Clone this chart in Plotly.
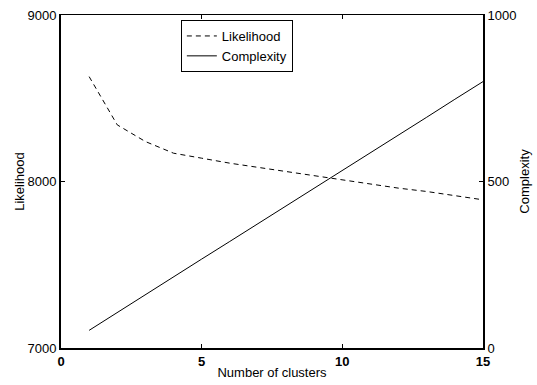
import plotly.graph_objects as go

# Model selection curves versus number of clusters
clusters = list(range(1, 16))
likelihood = [8630, 8340, 8240, 8170, 8140, 8110, 8085, 8060, 8035, 8010,
              7985, 7960, 7940, 7915, 7890]
complexity = [53, 107, 160, 213, 267, 320, 373, 427, 480, 533,
              587, 640, 693, 747, 800]

x_ticks = [0, 5, 10, 15]
left_ticks = [7000, 8000, 9000]
right_ticks = [0, 500, 1000]

FONT = "Liberation Sans, Arial, Helvetica, sans-serif"

fig = go.Figure()
fig.add_trace(go.Scatter(
    x=clusters, y=likelihood, name="Likelihood", mode="lines",
    line=dict(color="black", width=1, dash="5px,4px"),
    xaxis="x", yaxis="y",
))
fig.add_trace(go.Scatter(
    x=clusters, y=complexity, name="Complexity", mode="lines",
    line=dict(color="black", width=1),
    xaxis="x2", yaxis="y2",
))

fig.update_layout(
    width=537, height=385,
    margin=dict(l=61, r=54, t=15, b=37, autoexpand=False),
    paper_bgcolor="white", plot_bgcolor="white",
    font=dict(family=FONT, size=13, color="black"),
    showlegend=True,
    legend=dict(
        x=0.284, y=0.985, xanchor="left", yanchor="top",
        bordercolor="black", borderwidth=1, bgcolor="white",
        font=dict(size=13), tracegroupgap=0, itemwidth=30,
    ),
    xaxis=dict(
        range=[0, 15], tickvals=x_ticks, ticks="inside", ticklen=4,
        tickcolor="black", showgrid=False, zeroline=False,
        showline=True, linecolor="black", linewidth=2, automargin=False,
        tickfont=dict(size=13, weight="bold"),
        title=dict(text="Number of clusters", font=dict(size=13), standoff=0),
    ),
    xaxis2=dict(
        range=[0, 15], tickvals=x_ticks, ticks="inside", ticklen=4,
        tickcolor="black", showgrid=False, zeroline=False,
        showline=True, linecolor="black", linewidth=1, automargin=False,
        showticklabels=False, overlaying="x", side="top",
    ),
    yaxis=dict(
        range=[7000, 9000], tickvals=left_ticks, ticks="inside", ticklen=4,
        tickcolor="black", showgrid=False, zeroline=False,
        showline=True, linecolor="black", linewidth=2, automargin=False,
        tickfont=dict(size=13),
        title=dict(text="Likelihood", font=dict(size=13), standoff=0),
    ),
    yaxis2=dict(
        range=[0, 1000], tickvals=right_ticks, ticks="inside", ticklen=4,
        tickcolor="black", showgrid=False, zeroline=False,
        showline=True, linecolor="black", linewidth=2, automargin=False,
        tickfont=dict(size=13),
        overlaying="y", side="right", anchor="x2",
        title=dict(text="Complexity", font=dict(size=13), standoff=4),
    ),
)

fig.write_html("out.html")
